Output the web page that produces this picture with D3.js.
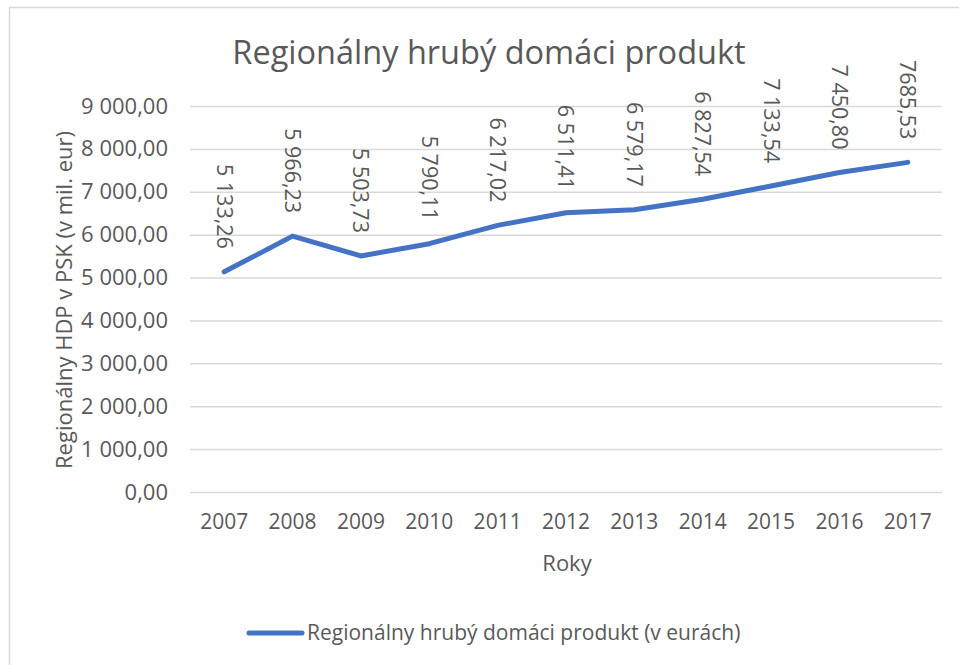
<!DOCTYPE html>
<html>
<head>
<meta charset="utf-8">
<script src="https://cdn.jsdelivr.net/npm/d3@7"></script>
<style>
    body { margin: 0; background: #fff; }
    text { font-family: 'Open Sans', sans-serif; fill: #595959; }
</style>
</head>
<body>
<div id="svg-container"></div>
<script>
// chart data
const years = ['2007', '2008', '2009', '2010', '2011', '2012', '2013', '2014', '2015', '2016', '2017'];
const hdpValues = [5133.26, 5966.23, 5503.73, 5790.11, 6217.02, 6511.41, 6579.17, 6827.54, 7133.54, 7450.80, 7685.53];
const valueLabels = ['5 133,26', '5 966,23', '5 503,73', '5 790,11', '6 217,02', '6 511,41', '6 579,17', '6 827,54', '7 133,54', '7 450,80', '7685,53'];
const yTicks = [0, 1000, 2000, 3000, 4000, 5000, 6000, 7000, 8000, 9000];
const yTickLabels = ['0,00', '1 000,00', '2 000,00', '3 000,00', '4 000,00', '5 000,00', '6 000,00', '7 000,00', '8 000,00', '9 000,00'];
const seriesName = 'Regionálny hrubý domáci produkt (v eurách)';

const params = {
    width: 959,
    height: 665,
    plot: { left: 190, right: 942, top: 106, bottom: 492 },
    lineColor: '#4472C4',
    gridColor: '#d9d9d9',
    fontSize: '22px'
};

const createChart = () => {
    d3.select('svg').remove();
    const svg = d3.select('#svg-container')
        .append('svg')
        .attr('width', params.width)
        .attr('height', params.height);

    // outer chart border
    svg.append('rect')
        .attr('x', 9.5)
        .attr('y', 7.5)
        .attr('width', 960)
        .attr('height', 670)
        .attr('fill', 'none')
        .attr('stroke', params.gridColor)
        .attr('stroke-width', 1.5);

    const x = d3.scaleBand()
        .domain(years)
        .range([params.plot.left, params.plot.right])
        .padding(0);
    const y = d3.scaleLinear()
        .domain([0, 9000])
        .range([params.plot.bottom, params.plot.top]);

    // gridlines + y labels
    const yAxis = svg.append('g')
        .attr('class', 'y-axis')
        .attr('transform', `translate(${params.plot.left}, 0)`)
        .call(d3.axisLeft(y)
            .tickValues(yTicks)
            .tickSize(-(params.plot.right - params.plot.left))
            .tickPadding(22)
            .tickFormat((d, i) => yTickLabels[i]));
    yAxis.select('.domain').remove();
    yAxis.selectAll('line').attr('stroke', params.gridColor).attr('stroke-width', 1.5);
    yAxis.selectAll('text')
        .attr('fill', '#595959')
        .style('font-size', params.fontSize)
        .style('font-family', "'Open Sans', sans-serif");

    // x labels
    const xAxis = svg.append('g')
        .attr('class', 'x-axis')
        .attr('transform', `translate(0, ${params.plot.bottom})`)
        .call(d3.axisBottom(x).tickSize(0).tickPadding(22));
    xAxis.select('.domain').remove();
    xAxis.selectAll('text')
        .attr('fill', '#595959')
        .style('font-size', '21px')
        .style('font-family', "'Open Sans', sans-serif");

    // series line
    const line = d3.line()
        .x((d, i) => x(years[i]) + x.bandwidth() / 2)
        .y(d => y(d));
    svg.append('path')
        .datum(hdpValues)
        .attr('d', line)
        .attr('fill', 'none')
        .attr('stroke', params.lineColor)
        .attr('stroke-width', 5)
        .attr('stroke-linecap', 'round')
        .attr('stroke-linejoin', 'round');

    // rotated data labels above points
    svg.selectAll('text.data-label')
        .data(hdpValues)
        .enter()
        .append('text')
        .attr('class', 'data-label')
        .attr('transform', (d, i) => `translate(${x(years[i]) + x.bandwidth() / 2}, ${y(d) - 23}) rotate(90)`)
        .attr('text-anchor', 'end')
        .attr('dy', '0.35em')
        .style('font-size', '21.5px')
        .text((d, i) => valueLabels[i]);

    // title
    svg.append('text')
        .attr('x', 489)
        .attr('y', 64)
        .attr('text-anchor', 'middle')
        .style('font-size', '32.5px')
        .text('Regionálny hrubý domáci produkt');

    // axis titles
    svg.append('text')
        .attr('transform', `translate(72, 300) rotate(-90)`)
        .attr('text-anchor', 'middle')
        .style('font-size', params.fontSize)
        .text('Regionálny HDP v PSK (v mil. eur)');

    svg.append('text')
        .attr('x', 567)
        .attr('y', 571)
        .attr('text-anchor', 'middle')
        .style('font-size', params.fontSize)
        .text('Roky');

    // legend
    const legend = svg.append('g').attr('class', 'legend');
    legend.append('line')
        .attr('x1', 249).attr('x2', 302)
        .attr('y1', 633).attr('y2', 633)
        .attr('stroke', params.lineColor)
        .attr('stroke-width', 5)
        .attr('stroke-linecap', 'round');
    legend.append('text')
        .attr('x', 307)
        .attr('y', 640)
        .style('font-size', '21px')
        .text(seriesName);
};
createChart();
</script>
</body>
</html>
